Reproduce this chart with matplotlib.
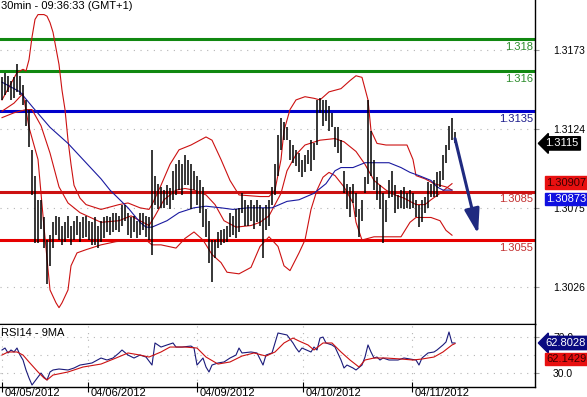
import matplotlib
matplotlib.use("Agg")
import matplotlib.pyplot as plt
from matplotlib.transforms import blended_transform_factory

plt.rcParams['font.family'] = ['Liberation Sans', 'DejaVu Sans']

# EUR/USD 30min bars (high / low), one per bar index
highs = [1.3156, 1.3159, 1.3157, 1.3154, 1.3156, 1.3164, 1.3157, 1.3151, 1.3142, 1.3136,
         1.3111, 1.3095, 1.3080, 1.3080, 1.3069, 1.3055, 1.3058, 1.3066, 1.3070, 1.3069,
         1.3064, 1.3066, 1.3070, 1.3064, 1.3067, 1.3070, 1.3066, 1.3069, 1.3070, 1.3067,
         1.3066, 1.3069, 1.3064, 1.3067, 1.3069, 1.3070, 1.3069, 1.3072, 1.3072, 1.3070,
         1.3077, 1.3077, 1.3072, 1.3069, 1.3070, 1.3067, 1.3072, 1.3072, 1.3070, 1.3069,
         1.3111, 1.3095, 1.3090, 1.3088, 1.3086, 1.3089, 1.3087, 1.3098, 1.3102, 1.3105,
         1.3102, 1.3108, 1.3105, 1.3102, 1.3098, 1.3095, 1.3092, 1.3088, 1.3074, 1.3067,
         1.3055, 1.3055, 1.3060, 1.3061, 1.3062, 1.3064, 1.3072, 1.3070, 1.3074, 1.3075,
         1.3084, 1.3080, 1.3077, 1.3080, 1.3077, 1.3080, 1.3077, 1.3075, 1.3077, 1.3080,
         1.3088, 1.3102, 1.3120, 1.3131, 1.3128, 1.3125, 1.3117, 1.3114, 1.3111, 1.3109,
         1.3105, 1.3108, 1.3111, 1.3117, 1.3115, 1.3142, 1.3143, 1.3142, 1.3142, 1.3138,
         1.3134, 1.3125, 1.3125, 1.3117, 1.3098, 1.3090, 1.3088, 1.3090, 1.3084, 1.3074,
         1.3080, 1.3094, 1.3142, 1.3123, 1.3105, 1.3094, 1.3089, 1.3084, 1.3080, 1.3092,
         1.3098, 1.3089, 1.3083, 1.3086, 1.3088, 1.3084, 1.3086, 1.3084, 1.3080, 1.3077,
         1.3080, 1.3082, 1.3091, 1.3090, 1.3092, 1.3097, 1.3098, 1.3108, 1.3114, 1.3126,
         1.3131, 1.3122]
lows = [1.3142, 1.3145, 1.3147, 1.3142, 1.3143, 1.3147, 1.3145, 1.3139, 1.3126, 1.3113,
        1.3083, 1.3053, 1.3053, 1.3062, 1.3050, 1.3028, 1.3039, 1.3050, 1.3058, 1.3055,
        1.3052, 1.3054, 1.3056, 1.3052, 1.3055, 1.3058, 1.3054, 1.3056, 1.3057, 1.3055,
        1.3052, 1.3052, 1.3050, 1.3054, 1.3056, 1.3060, 1.3058, 1.3060, 1.3061, 1.3060,
        1.3064, 1.3067, 1.3058, 1.3056, 1.3060, 1.3056, 1.3058, 1.3061, 1.3057, 1.3055,
        1.3046, 1.3077, 1.3074, 1.3075, 1.3075, 1.3077, 1.3074, 1.3080, 1.3083, 1.3086,
        1.3083, 1.3089, 1.3089, 1.3074, 1.3086, 1.3077, 1.3072, 1.3063, 1.3057, 1.3041,
        1.3029, 1.3044, 1.3050, 1.3052, 1.3053, 1.3054, 1.3057, 1.3058, 1.3056, 1.3060,
        1.3072, 1.3064, 1.3064, 1.3067, 1.3062, 1.3066, 1.3064, 1.3044, 1.3061, 1.3064,
        1.3077, 1.3083, 1.3095, 1.3111, 1.3117, 1.3117, 1.3105, 1.3103, 1.3101, 1.3097,
        1.3094, 1.3097, 1.3102, 1.3098, 1.3105, 1.3114, 1.3134, 1.3126, 1.3129, 1.3123,
        1.3125, 1.3113, 1.3109, 1.3103, 1.3084, 1.3074, 1.3069, 1.3078, 1.3069, 1.3057,
        1.3067, 1.3084, 1.3090, 1.3095, 1.3086, 1.3080, 1.3074, 1.3053, 1.3066, 1.3081,
        1.3082, 1.3072, 1.3074, 1.3075, 1.3074, 1.3075, 1.3074, 1.3075, 1.3069, 1.3063,
        1.3066, 1.3072, 1.3075, 1.3082, 1.3082, 1.3082, 1.3088, 1.3092, 1.3103, 1.3111,
        1.3117, 1.3115]
bars = list(range(len(highs)))

# Bollinger bands (read at sample bars)
upper_idx = [0, 5, 7, 8, 9, 10, 11, 12, 13, 14, 15, 16, 17, 18, 19, 20, 21, 22, 23, 24,
             26, 28, 33, 39, 42, 46, 49, 50, 53, 56, 59, 63, 66, 68, 70, 73, 76, 79, 86, 89,
             91, 93, 94, 96, 98, 101, 104, 106, 109, 113, 116, 118, 120, 122, 123, 125, 128,
             135, 137, 138, 141, 144, 148, 150]
upper_val = [1.3142, 1.3159, 1.3161, 1.3160, 1.3167, 1.3181, 1.3192, 1.3195, 1.3195, 1.3195,
             1.3194, 1.3190, 1.3184, 1.3174, 1.3164, 1.3148, 1.3136, 1.3117, 1.3102, 1.3089,
             1.3081, 1.3077, 1.3074, 1.3077, 1.3078, 1.3075, 1.3074, 1.3077, 1.3089, 1.3102,
             1.3111, 1.3114, 1.3117, 1.3119, 1.3117, 1.3105, 1.3092, 1.3083, 1.3082, 1.3082,
             1.3086, 1.3105, 1.3123, 1.3136, 1.3142, 1.3144, 1.3143, 1.3142, 1.3147, 1.3149,
             1.3154, 1.3157, 1.3156, 1.3142, 1.3123, 1.3115, 1.3114, 1.3114, 1.3105, 1.3095,
             1.3093, 1.3090, 1.3088, 1.3086]
mid_idx = [0, 4, 8, 10, 13, 16, 19, 22, 26, 33, 39, 43, 46, 49, 51, 54, 58, 61,
           64, 68, 71, 74, 78, 83, 86, 89, 93, 95, 98, 101, 106, 111, 114, 118, 121, 124,
           128, 131, 134, 138, 141, 143, 146, 148, 150]
mid_val = [1.3131, 1.3134, 1.3136, 1.3136, 1.3126, 1.3109, 1.3088, 1.3078, 1.3072, 1.3066,
           1.3067, 1.3070, 1.3067, 1.3064, 1.3070, 1.3080, 1.3086, 1.3087,
           1.3086, 1.3083, 1.3077, 1.3067, 1.3063, 1.3064, 1.3066, 1.3070, 1.3084, 1.3098,
           1.3108, 1.3114, 1.3117, 1.3118, 1.3116, 1.3110, 1.3102, 1.3092, 1.3086, 1.3083,
           1.3081, 1.3077, 1.3077, 1.3080, 1.3084, 1.3087, 1.3090]
lower_idx = [0, 4, 7, 9, 12, 14, 16, 18, 19, 20, 22, 23, 25, 28, 33, 38, 44, 48, 50,
             53, 58, 61, 64, 67, 70, 73, 75, 79, 83, 86, 89, 92, 94, 96, 99, 101, 103, 105,
             107, 109, 111, 114, 117, 118, 120, 124, 128, 133, 136, 138, 143, 146, 148, 150]
lower_val = [1.3135, 1.3140, 1.3146, 1.3125, 1.3105, 1.3063, 1.3024, 1.3016, 1.3013,
             1.3016, 1.3024, 1.3039, 1.3047, 1.3049, 1.3052, 1.3054, 1.3055, 1.3055, 1.3052,
             1.3052, 1.3050, 1.3056, 1.3060, 1.3055, 1.3046, 1.3041, 1.3035, 1.3034, 1.3038,
             1.3051, 1.3057, 1.3051, 1.3039, 1.3036, 1.3047, 1.3055, 1.3074, 1.3086, 1.3094,
             1.3097, 1.3095, 1.3088, 1.3078, 1.3066, 1.3055, 1.3057, 1.3057, 1.3057, 1.3066,
             1.3069, 1.3069, 1.3067, 1.3061, 1.3058]
# moving average (blue)
ma_idx = [0, 6, 10, 16, 22, 27, 33, 36, 42, 46, 48, 50, 55, 59, 64, 68, 73, 77, 82, 86,
          90, 95, 99, 104, 108, 111, 113, 117, 121, 126, 129, 133, 136, 139, 143, 145, 147, 150]
ma_val = [1.3153, 1.3147, 1.3138, 1.3125, 1.3115, 1.3105, 1.3093, 1.3086, 1.3075, 1.3066,
          1.3063, 1.3063, 1.3067, 1.3072, 1.3075, 1.3076, 1.3075, 1.3074, 1.3075, 1.3075,
          1.3075, 1.3079, 1.3080, 1.3084, 1.3090, 1.3098, 1.3100, 1.3100, 1.3103, 1.3103,
          1.3103, 1.3100, 1.3097, 1.3095, 1.3092, 1.3088, 1.3086, 1.3086]

# RSI14 and its 9MA
rsi_idx = [0, 1, 2, 3, 4, 5, 6, 7, 8, 9, 10, 12, 13, 14, 15, 16, 17, 19, 22, 24,
           26, 28, 30, 33, 35, 37, 39, 40, 42, 44, 46, 48, 50, 51, 53, 55, 57, 58, 60, 63,
           64, 65, 67, 68, 69, 70, 72, 74, 76, 78, 79, 80, 83, 85, 87, 88, 90, 92, 95, 97,
           98, 99, 100, 103, 104, 105, 106, 107, 108, 110, 111, 113, 114, 115, 117, 118, 120, 121,
           122, 123, 124, 125, 126, 127, 129, 132, 134, 136, 138, 139, 140, 142, 144, 145, 147,
           148, 149, 150, 151]
rsi_val = [55.0, 57.2, 51.7, 55.0, 52.8, 57.2, 49.4, 43.9, 32.8, 23.9, 16.1, 25.0, 29.4, 25.0,
           21.7, 30.6, 32.8, 33.9, 32.8, 35.0, 38.3, 39.4, 40.6, 46.1, 43.9, 46.1, 51.7, 55.0,
           49.4, 46.1, 49.4, 47.2, 38.3, 62.8, 58.3, 60.6, 62.8, 58.3, 58.3, 59.4, 57.2, 38.3,
           46.1, 36.1, 30.6, 38.3, 40.6, 41.7, 46.1, 49.4, 57.2, 51.7, 52.8, 51.7, 38.3, 49.4,
           51.7, 73.9, 71.7, 62.8, 57.2, 52.8, 57.2, 52.8, 58.3, 55.0, 68.3, 69.4, 62.8, 60.6,
           58.3, 43.9, 35.0, 38.3, 35.0, 32.8, 38.3, 47.2, 60.6, 52.8, 46.1, 47.2, 43.9, 46.1,
           43.9, 43.9, 46.1, 45.0, 43.9, 38.3, 46.1, 51.7, 52.8, 55.0, 60.6, 63.9, 75.0, 62.8,
           62.8]
rsi_ma_idx = [0, 2, 5, 7, 9, 12, 14, 15, 17, 22, 27, 33, 38, 42, 46, 49, 53, 56, 61, 65,
              68, 72, 76, 80, 84, 88, 91, 94, 97, 99, 102, 104, 107, 110, 113, 116, 119, 121,
              124, 128, 133, 137, 140, 144, 147, 150, 151]
rsi_ma_val = [49.4, 52.8, 52.8, 49.4, 41.7, 30.6, 23.9, 21.7, 27.2, 30.6, 36.1, 39.4, 46.1,
              51.7, 49.4, 47.2, 52.8, 58.3, 58.3, 57.2, 47.2, 39.4, 41.7, 48.3, 51.7, 48.3,
              52.8, 62.8, 68.3, 65.0, 60.6, 55.0, 62.8, 62.8, 52.8, 43.9, 36.1, 43.9, 46.1,
              46.1, 45.0, 43.9, 45.0, 47.2, 52.8, 60.6, 62.1]

# support / resistance levels
levels = [1.318, 1.316, 1.3135, 1.3085, 1.3055]
level_labels = ['1.318', '1.316', '1.3135', '1.3085', '1.3055']
level_colors = ['#118811', '#118811', '#0000cc', '#cc1111', '#e60000']
label_colors = ['#2c8c2c', '#2c8c2c', '#1c1c8c', '#c23030', '#c23030']

price_ticks = [1.3173, 1.3124, 1.3075, 1.3026]
date_pos = [0, 28.7, 65, 100.3, 136.7]
date_labels = ['04/05/2012', '04/06/2012', '04/09/2012', '04/10/2012', '04/11/2012']

last_price = 1.3115
bb_tag = 1.30907
ma_tag = 1.30873
rsi_last = 62.8028
rsi_ma_last = 62.1429
arrow_from = (151, 1.3118)
arrow_to = (158.7, 1.30587)

fig = plt.figure(figsize=(5.87, 3.97), dpi=100)
ax = fig.add_axes([0, 1 - 324 / 397, 535 / 587, 324 / 397])
ax2 = fig.add_axes([0, 1 - 387 / 397, 535 / 587, 63 / 397])

xmin, xmax = -0.67, 177.67
ax.set_xlim(xmin, xmax)
ax.set_ylim(1.300285, 1.320405)
ax2.set_xlim(xmin, xmax)
ax2.set_ylim(13.9, 83.9)

for a in (ax, ax2):
    a.spines['left'].set_visible(False)
    a.spines['top'].set_visible(False)
    a.spines['right'].set_linewidth(1.0)
    a.spines['bottom'].set_linewidth(1.0)
    a.yaxis.tick_right()
    a.tick_params(axis='y', direction='out', length=3, color='#999999',
                  labelsize=7.5, pad=10, labelcolor='black')
ax2.spines['top'].set_visible(True)

# grid
dots = (0, (1, 5))
for p in price_ticks:
    ax.axhline(p, color='#b5b5b5', lw=0.8, ls=dots, zorder=0)
for v in [70, 50, 30]:
    ax2.axhline(v, color='#b5b5b5', lw=0.8, ls=dots, zorder=0)
for d in date_pos:
    ax2.axvline(d, color='#b5b5b5', lw=0.8, ls=dots, zorder=0)

ax.set_xticks([])
ax.set_yticks(price_ticks)
ax.set_yticklabels([f'{p:.4f}' for p in price_ticks])
ax2.set_yticks([70, 30])
ax2.set_yticklabels(['70.0', '30.0'])

# levels
tr = blended_transform_factory(ax.transAxes, ax.transData)
for lv, lab, c, lc in zip(levels, level_labels, level_colors, label_colors):
    ax.axhline(lv, color=c, lw=2.2, zorder=2)
    ax.annotate(lab, xy=(0.996, lv), xycoords=tr, xytext=(0, -2),
                textcoords='offset points', ha='right', va='top',
                fontsize=8, color=lc)

# bands and bars
ax.plot(upper_idx, upper_val, color='#cc1111', lw=0.8, zorder=3)
ax.plot(mid_idx, mid_val, color='#cc1111', lw=0.8, zorder=3)
ax.plot(lower_idx, lower_val, color='#cc1111', lw=0.8, zorder=3)
ax.plot(ma_idx, ma_val, color='#1a1aa0', lw=0.8, zorder=3)
ax.vlines(bars, lows, highs, color='black', lw=1.1, zorder=4)

ax.annotate('', xy=arrow_to, xytext=arrow_from,
            arrowprops=dict(arrowstyle='-|>,head_length=1.5,head_width=0.45',
                            color='#1f2a80', lw=2.2, mutation_scale=10,
                            shrinkA=0, shrinkB=0), zorder=5)

ax.text(0.002, 0.997, '30min - 09:36:33 (GMT+1)', transform=ax.transAxes,
        ha='left', va='top', fontsize=8, color='black')

# price tags on the right
ax.annotate(f'{last_price:.4f}', xy=(1.004, last_price), xycoords=tr,
            xytext=(6, 0), textcoords='offset points', ha='left', va='center',
            fontsize=8, color='white', annotation_clip=False,
            bbox=dict(boxstyle='larrow,pad=0.15', fc='black', ec='black'))
ax.annotate(f'{bb_tag:.5f}', xy=(1.0, bb_tag), xycoords=tr,
            xytext=(8, 0), textcoords='offset points', ha='left', va='center',
            fontsize=8, color='#3a0000', annotation_clip=False,
            bbox=dict(boxstyle='square,pad=0.12', fc='#e81010', ec='#e81010'))
ax.annotate(f'{ma_tag:.5f}', xy=(1.0, ma_tag), xycoords=tr,
            xytext=(8, -8), textcoords='offset points', ha='left', va='center',
            fontsize=8, color='white', annotation_clip=False,
            bbox=dict(boxstyle='square,pad=0.12', fc='#1010e0', ec='#1010e0'))

# RSI panel
ax2.plot(rsi_idx, rsi_val, color='#1a1a7a', lw=0.8, zorder=3)
ax2.plot(rsi_ma_idx, rsi_ma_val, color='#cc1111', lw=0.8, zorder=3)
ax2.text(0.002, 0.93, 'RSI14 - 9MA', transform=ax2.transAxes, ha='left', va='top',
         fontsize=8, color='black')
tr2 = blended_transform_factory(ax2.transAxes, ax2.transData)
ax2.annotate(f'{rsi_last:.4f}', xy=(1.004, rsi_last), xycoords=tr2,
             xytext=(6, 0), textcoords='offset points', ha='left', va='center',
             fontsize=8, color='white', annotation_clip=False, zorder=6,
             bbox=dict(boxstyle='larrow,pad=0.15', fc='#0a0a80', ec='#0a0a80'))
ax2.annotate(f'{rsi_ma_last:.4f}', xy=(1.0, rsi_ma_last), xycoords=tr2,
             xytext=(8, -11), textcoords='offset points', ha='left', va='center',
             fontsize=8, color='#3a0000', annotation_clip=False, zorder=6,
             bbox=dict(boxstyle='square,pad=0.12', fc='#e81010', ec='#e81010'))

ax2.set_xticks(date_pos)
ax2.set_xticklabels([])
ax2.tick_params(axis='x', direction='inout', length=7, color='black', width=0.8)
trx = blended_transform_factory(ax2.transData, ax2.transAxes)
for d, lab in zip(date_pos, date_labels):
    ax2.annotate(lab, xy=(d, 0), xycoords=trx, xytext=(2, -1), textcoords='offset points',
                 ha='left', va='top', fontsize=8, color='black', annotation_clip=False)

fig.savefig('out.png', dpi=100)
